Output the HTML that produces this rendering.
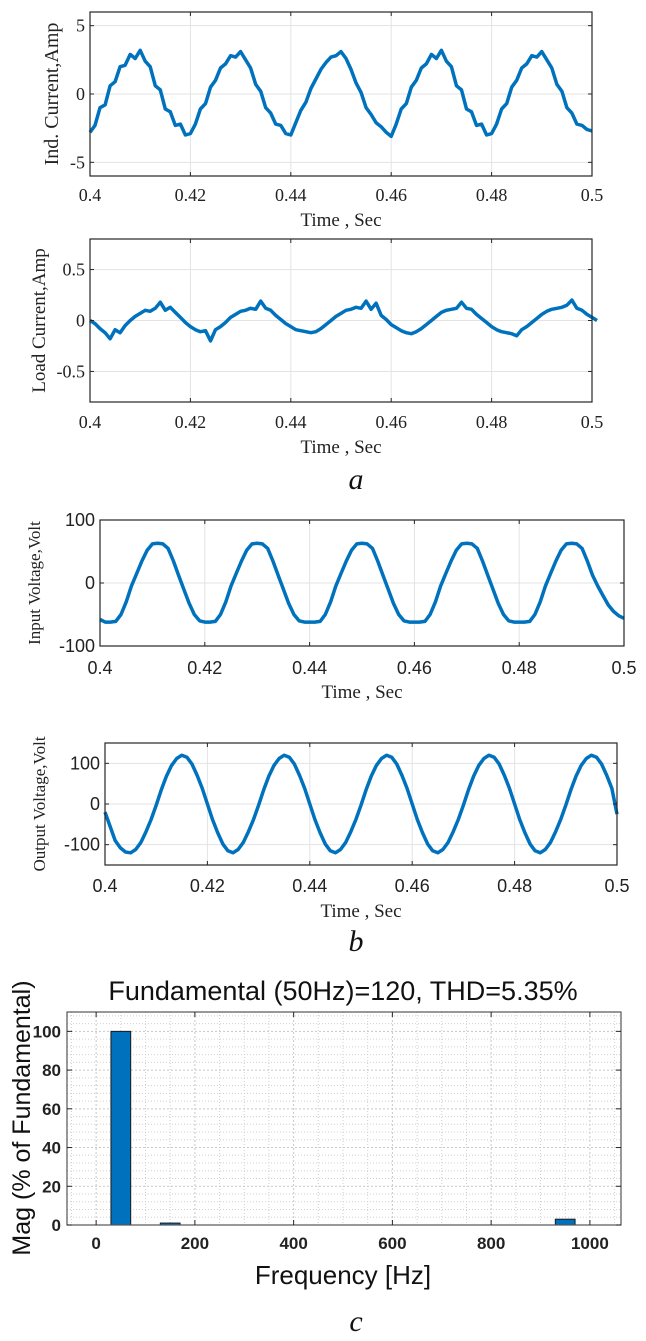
<!DOCTYPE html>
<html><head><meta charset="utf-8"><style>
body{margin:0;background:#fff;width:646px;height:1341px;overflow:hidden}
svg{display:block}
</style></head><body>
<svg id="fig" width="646" height="1341" viewBox="0 0 646 1341" xmlns="http://www.w3.org/2000/svg"></svg>
<script>
// ---- data (sampled every 1 ms from 0.400 to 0.500 s) ----
const timeStart = 0.4, timeStep = 0.001;
const indCurrent = [-2.8,-2.3,-1.0,-0.8,0.6,0.9,2.0,2.1,2.9,2.6,3.2,2.4,2.0,0.6,0.3,-1.1,-1.3,-2.3,-2.2,-3.0,-2.9,
 -2.2,-1.1,-0.7,0.5,1.0,1.9,2.2,2.8,2.7,3.1,2.5,1.9,0.7,0.2,-1.0,-1.4,-2.2,-2.3,-2.9,-3.0,
 -2.1,-1.2,-0.6,0.4,1.1,1.8,2.3,2.7,2.8,3.1,2.6,1.8,0.8,0.1,-1.0,-1.5,-2.1,-2.4,-2.8,-3.1,
 -2.2,-1.1,-0.7,0.5,1.0,1.9,2.2,2.9,2.6,3.2,2.4,2.0,0.6,0.3,-1.1,-1.3,-2.3,-2.2,-3.0,-2.9,
 -2.2,-1.1,-0.7,0.5,1.0,1.9,2.2,2.8,2.7,3.1,2.5,1.9,0.7,0.2,-1.0,-1.4,-2.2,-2.3,-2.6,-2.7];
const loadCurrent = [0.0,-0.03,-0.08,-0.12,-0.18,-0.09,-0.12,-0.05,0.0,0.04,0.07,0.10,0.09,0.12,0.18,0.10,0.13,0.08,0.03,-0.02,-0.06,
 -0.09,-0.11,-0.10,-0.20,-0.09,-0.06,-0.02,0.03,0.06,0.09,0.10,0.12,0.11,0.19,0.12,0.10,0.05,0.01,-0.03,-0.06,
 -0.09,-0.10,-0.11,-0.12,-0.11,-0.08,-0.04,0.0,0.04,0.07,0.10,0.11,0.13,0.12,0.19,0.11,0.17,0.05,0.01,-0.04,
 -0.07,-0.10,-0.12,-0.13,-0.11,-0.08,-0.04,0.0,0.04,0.08,0.10,0.11,0.12,0.18,0.12,0.11,0.06,0.02,-0.02,-0.06,
 -0.09,-0.11,-0.12,-0.13,-0.15,-0.09,-0.06,-0.02,0.02,0.06,0.09,0.11,0.12,0.13,0.15,0.20,0.12,0.10,0.06,0.03,0.0];
const inputVoltage = [-58,-62,-62,-61,-50,-30,-5,15,35,52,62,63,62,55,35,12,-10,-32,-50,-60,-62,
 -62,-61,-50,-30,-5,15,35,52,62,63,62,55,35,12,-10,-32,-50,-60,-62,-62,
 -62,-61,-50,-30,-5,15,35,52,62,63,62,55,35,12,-10,-32,-50,-60,-62,-62,
 -62,-61,-50,-30,-5,15,35,52,62,63,62,55,35,12,-10,-32,-50,-60,-62,-62,
 -62,-61,-50,-30,-5,15,35,52,62,63,62,55,35,12,-5,-20,-35,-45,-52,-56];
const outputVoltage = [-20,-55,-90,-108,-118,-120,-112,-95,-68,-38,-3,35,68,95,112,120,115,98,70,38,0,
 -38,-70,-98,-115,-120,-112,-95,-68,-38,-3,35,68,95,112,120,115,98,70,38,0,
 -38,-70,-98,-115,-120,-112,-95,-68,-38,-3,35,68,95,112,120,115,98,70,38,0,
 -38,-70,-98,-115,-120,-112,-95,-68,-38,-3,35,68,95,112,120,115,98,70,38,0,
 -38,-70,-98,-115,-120,-112,-95,-68,-38,-3,35,68,95,112,120,115,98,70,38,-25];
const timeTicks = [0.4,0.42,0.44,0.46,0.48,0.5];
const timeTickLabels = ["0.4","0.42","0.44","0.46","0.48","0.5"];
const harmFreq = [50,150,950];
const harmMag = [100,1,3];
const freqTicks = [0,200,400,600,800,1000];
const magTicks = [0,20,40,60,80,100];

const NS="http://www.w3.org/2000/svg";
const svg=document.getElementById('fig');
function el(tag,attrs,parent){const e=document.createElementNS(NS,tag);for(const k in attrs)e.setAttribute(k,attrs[k]);(parent||svg).appendChild(e);return e;}
function txt(s,attrs,parent){const e=el('text',attrs,parent);e.textContent=s;return e;}

function wavePanel(cfg){
  const g=el('g',{});
  
  
  const {L,R,T,B,ymin,ymax}=cfg;
  const sx=v=>L+(v-0.4)/(0.1)*(R-L);
  const sy=v=>B-(v-ymin)/(ymax-ymin)*(B-T);
  timeTicks.forEach(t=>{const l=el('line',{x1:sx(t),x2:sx(t),y1:T,y2:B,stroke:'#e3e3e3','stroke-width':1},g);
    });
  cfg.yTicks.forEach(v=>{const l=el('line',{x1:L,x2:R,y1:sy(v),y2:sy(v),stroke:'#e3e3e3','stroke-width':1},g);
    });
  const pts=cfg.data.map((v,i)=>sx(timeStart+i*timeStep).toFixed(1)+','+sy(v).toFixed(1)).join(' ');
  const pl=el('polyline',{points:pts,fill:'none',stroke:'#0072BD','stroke-width':3.5,'stroke-linejoin':'round'},g);
  
  const bx=el('rect',{x:L,y:T,width:R-L,height:B-T,fill:'none',stroke:'#262626','stroke-width':1.2},g);
  
  timeTicks.forEach((t,i)=>{
    el('line',{x1:sx(t),x2:sx(t),y1:B,y2:B-4,stroke:'#262626'},g);
    el('line',{x1:sx(t),x2:sx(t),y1:T,y2:T+4,stroke:'#262626'},g);
    const tl=txt(timeTickLabels[i],{x:sx(t),y:cfg.xlabY,'text-anchor':'middle','font-size':cfg.fs,'font-family':cfg.tickFont,fill:'#222'},g);
    
  });
  cfg.yTicks.forEach((v,i)=>{
    el('line',{x1:L,x2:L+4,y1:sy(v),y2:sy(v),stroke:'#262626'},g);
    el('line',{x1:R,x2:R-4,y1:sy(v),y2:sy(v),stroke:'#262626'},g);
    const tl=txt(cfg.yLabels[i],{x:L-5,y:sy(v)+6,'text-anchor':'end','font-size':cfg.fs,'font-family':cfg.tickFont,fill:'#222'},g);
    
  });
  const xt=txt('Time , Sec',{x:(L+R)/2,y:cfg.xTitleY,'text-anchor':'middle','font-size':19,'font-family':'"Liberation Serif",serif',fill:'#222'},g);
  
  const yt=txt(cfg.ylabel,{x:0,y:0,'text-anchor':'middle','font-size':cfg.yfs,'font-family':'"Liberation Serif",serif',fill:'#222',transform:`translate(${cfg.yTitleX},${(T+B)/2}) rotate(-90)`},g);
  
}

const serif='"Liberation Serif",serif', sans='"Liberation Sans",sans-serif';
wavePanel({name:'ind-current-chart',L:90,R:592,T:12,B:176,ymin:-6,ymax:6,data:indCurrent,yTicks:[-5,0,5],yLabels:['-5','0','5'],fs:18,tickFont:serif,xlabY:201,xTitleY:226,yTitleX:58,yfs:20,ylabel:'Ind. Current,Amp'});
wavePanel({name:'load-current-chart',L:90,R:592,T:239,B:402,ymin:-0.8,ymax:0.8,data:loadCurrent,yTicks:[-0.5,0,0.5],yLabels:['-0.5','0','0.5'],fs:18,tickFont:serif,xlabY:428,xTitleY:453,yTitleX:45,yfs:19,ylabel:'Load Current,Amp'});
wavePanel({name:'input-voltage-chart',L:100,R:624,T:520,B:646,ymin:-100,ymax:100,data:inputVoltage,yTicks:[-100,0,100],yLabels:['-100','0','100'],fs:18,tickFont:sans,xlabY:674,xTitleY:698,yTitleX:40,yfs:17,ylabel:'Input Voltage,Volt'});
wavePanel({name:'output-voltage-chart',L:105,R:617,T:743,B:865,ymin:-150,ymax:150,data:outputVoltage,yTicks:[-100,0,100],yLabels:['-100','0','100'],fs:18,tickFont:sans,xlabY:892,xTitleY:917,yTitleX:45,yfs:17,ylabel:'Output Voltage,Volt'});

function cap(s,y,name){const c=txt(s,{x:356,y:y,'text-anchor':'middle','font-size':30,'font-style':'italic','font-family':serif,fill:'#111'});
  }
cap('a',489,'caption-a');cap('b',951,'caption-b');cap('c',1331,'caption-c');

// ---- FFT bar chart ----
(function(){
  const g=el('g',{});
  
  
  const L=67,R=621,T=1012,B=1225,xmin=-59,xmax=1063,ymin=0,ymax=110;
  const sx=v=>L+(v-xmin)/(xmax-xmin)*(R-L);
  const sy=v=>B-(v-ymin)/(ymax-ymin)*(B-T);
  el('rect',{x:L,y:T,width:R-L,height:B-T,fill:'#fff'},g);
  for(let f=-50;f<=1050;f+=50){if(f%200===0)continue;el('line',{x1:sx(f),x2:sx(f),y1:T,y2:B,stroke:'#d0d0d0','stroke-dasharray':'1 2'},g);}
  for(let m=4;m<=108;m+=4){if(m%20===0)continue;el('line',{x1:L,x2:R,y1:sy(m),y2:sy(m),stroke:'#d0d0d0','stroke-dasharray':'1 2'},g);}
  freqTicks.forEach(f=>{const l=el('line',{x1:sx(f),x2:sx(f),y1:T,y2:B,stroke:'#c8c8c8','stroke-dasharray':'2 2'},g);
    });
  magTicks.forEach(m=>{const l=el('line',{x1:L,x2:R,y1:sy(m),y2:sy(m),stroke:'#c8c8c8','stroke-dasharray':'2 2'},g);
    });
  const bw=40;
  harmFreq.forEach((f,i)=>{
    const b=el('rect',{x:sx(f-bw/2),y:sy(harmMag[i]),width:sx(f+bw/2)-sx(f-bw/2),height:sy(0)-sy(harmMag[i]),fill:'#0072BD',stroke:'#1a1a1a','stroke-width':1},g);
    
  });
  const bx=el('rect',{x:L,y:T,width:R-L,height:B-T,fill:'none',stroke:'#555','stroke-width':1.2},g);
  
  freqTicks.forEach(f=>{
    el('line',{x1:sx(f),x2:sx(f),y1:B,y2:B-5,stroke:'#262626'},g);
    el('line',{x1:sx(f),x2:sx(f),y1:T,y2:T+5,stroke:'#262626'},g);
    const tl=txt(String(f),{x:sx(f),y:1249,'text-anchor':'middle','font-size':17,'font-weight':'bold','font-family':sans,fill:'#222'},g);
    
  });
  magTicks.forEach(m=>{
    el('line',{x1:L,x2:L+5,y1:sy(m),y2:sy(m),stroke:'#262626'},g);
    el('line',{x1:R,x2:R-5,y1:sy(m),y2:sy(m),stroke:'#262626'},g);
    const tl=txt(String(m),{x:L-6,y:sy(m)+6,'text-anchor':'end','font-size':17,'font-weight':'bold','font-family':sans,fill:'#222'},g);
    
  });
  const tt=txt('Fundamental (50Hz)=120, THD=5.35%',{x:343,y:1000,'text-anchor':'middle','font-size':27,'font-family':sans,fill:'#111'},g);
  
  const xt=txt('Frequency [Hz]',{x:343,y:1284,'text-anchor':'middle','font-size':26,'font-family':sans,fill:'#111'},g);
  
  const yt=txt('Mag (% of Fundamental)',{x:0,y:0,'text-anchor':'middle','font-size':25,'font-family':sans,fill:'#111',transform:`translate(30,1118) rotate(-90)`},g);
  
})();
</script>
</body></html>
